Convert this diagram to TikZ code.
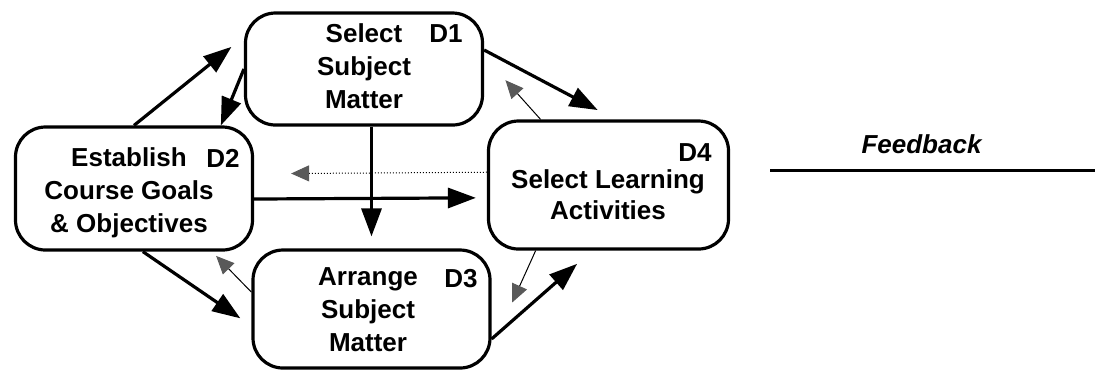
\documentclass[tikz,border=0pt]{standalone}
\usepackage{fontspec}
\setmainfont{Liberation Sans}
\usetikzlibrary{arrows.meta}

\tikzset{
  stage/.style={draw=black, line width=1.6pt, rounded corners=15pt, inner sep=0pt, minimum width=118.5pt},
  stagetext/.style={align=center, inner sep=0pt, font=\fontsize{13}{16.5}\selectfont\bfseries},
  tag/.style={inner sep=0pt, anchor=base east, font=\fontsize{13}{16.5}\selectfont\bfseries},
  forward/.style={line width=1.6pt, -{Triangle[length=14pt,width=10pt]}},
  backward/.style={line width=0.5pt, -{Triangle[length=9pt,width=8pt,color=black!65,fill=black!65]}},
}

\begin{document}
\begin{tikzpicture}[x=0.5pt, y=-0.5pt]
    \useasboundingbox (0,0) rectangle (1095,372);
    % the four decisions
    \node[stage, minimum height=56pt] (d1) at (364,69) {};
    \node[stagetext] (d1-text) at (364,66.5) {Select\\Subject\\Matter};
    \node[tag] (d1-tag) at (463,42) {D1};
    \node[stage, minimum height=61.5pt] (d2) at (134,188.5) {};
    \node[stagetext] (d2-text) at (129,192.5) {Establish\\Course Goals\\\& Objectives};
    \node[tag] (d2-tag) at (240,167) {D2};
    \node[stage, minimum height=59pt] (d3) at (371.5,309) {};
    \node[stagetext] (d3-text) at (368,309.5) {Arrange\\Subject\\Matter};
    \node[tag] (d3-tag) at (478,287) {D3};
    \node[stage, minimum height=64pt, minimum width=120pt] (d4) at (608.5,185) {};
    \node[stagetext, font=\fontsize{13}{15.5}\selectfont\bfseries] (d4-text) at (608,195) {Select Learning\\Activities};
    \node[tag] (d4-tag) at (712,161) {D4};
    % forward links
    \draw[forward, shorten >=8pt] (d2.north) -- (d1.165);
    \draw[forward] (d1.west) -- (d2.36);
    \draw[forward, shorten >=6pt] (d1.south -| d3.north) -- (d3.north);
    \draw[forward, shorten >=5.5pt] (d2.-5) -- (d4.186);
    \draw[forward, shorten >=6.7pt] (d2.-82) -- (d3.188);
    \draw[forward, shorten >=10pt] (d1.9) -- (d4.84);
    \draw[forward, shorten >=10pt] (d3.-14) -- (d4.-104);
    % feedback links
    \draw[backward, densely dotted, shorten >=18.5pt] (d4.174) -- (d2.7);
    \draw[backward, shorten >=3pt] (d3.172) -- (d2.-39);
    \draw[backward, shorten >=16pt] (d4.136) -- (d1.6);
    \draw[backward, shorten >=25pt] (d4.222) -- (d3.-18);
    % legend
    \node[anchor=base, inner sep=0pt, font=\fontsize{13}{16.5}\selectfont\bfseries\itshape] (fb) at (921.5,153) {Feedback};
    \coordinate (fb-start) at (770,170);
    \coordinate (fb-end) at (1095,170);
    \draw[line width=1.5pt] (fb-start) -- (fb-end);
\end{tikzpicture}
\end{document}
